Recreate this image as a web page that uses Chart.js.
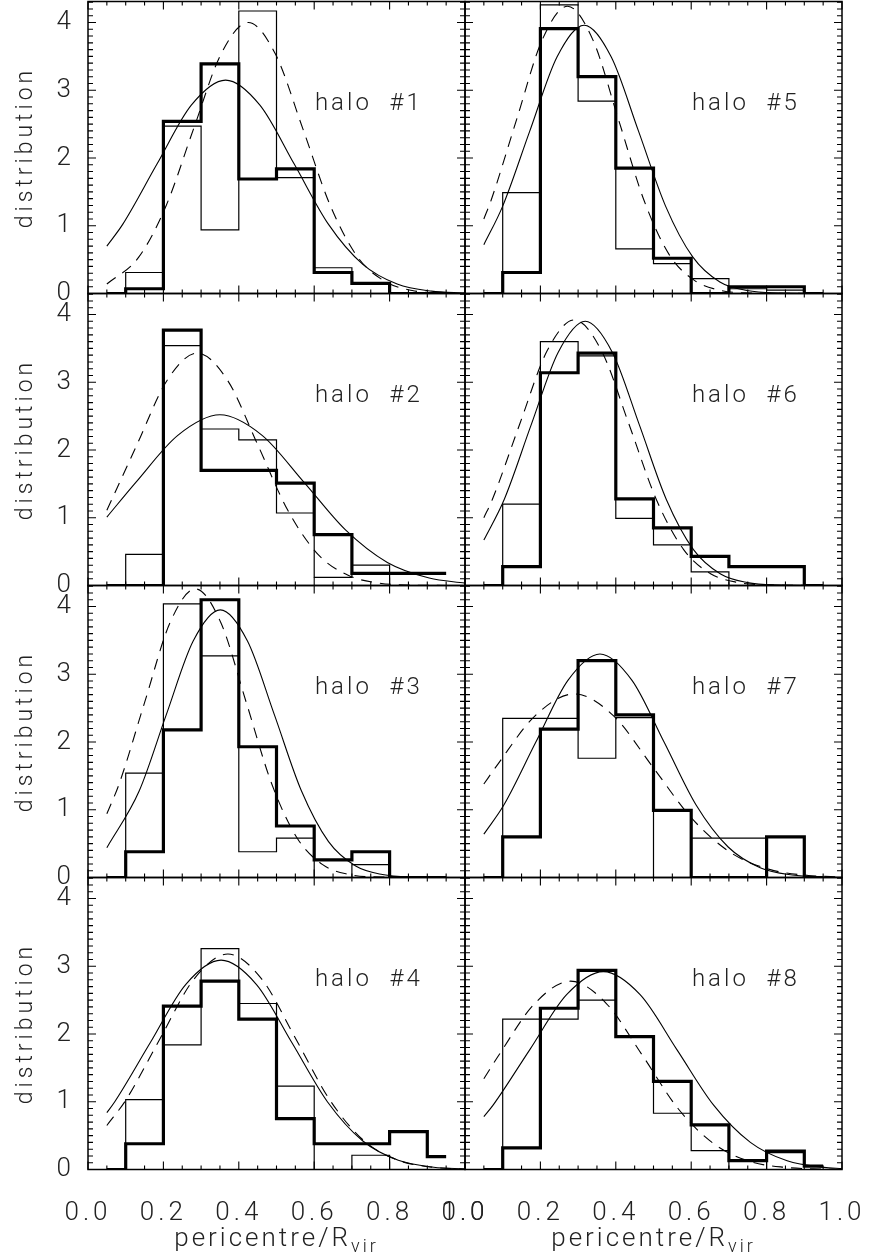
<!DOCTYPE html>
<html>
<head>
<meta charset="utf-8">
<title>pericentre distributions</title>
<script src="https://cdn.jsdelivr.net/npm/chart.js@4.4.1/dist/chart.umd.min.js"></script>
<style>
  html, body { margin: 0; padding: 0; background: #fff; }
  #wrap { position: relative; width: 872px; height: 1258px; }
  #wrap canvas { position: absolute; left: 0; top: 0; }
</style>
</head>
<body>
<div id="wrap"></div>
<script>
// histogram bins (centres), same for every halo
const binCentres = [0.05, 0.15, 0.25, 0.35, 0.45, 0.55, 0.65, 0.75, 0.85, 0.95];
const xTicks = [0.0, 0.2, 0.4, 0.6, 0.8, 1.0];
const yTicks = [0, 1, 2, 3, 4];

// halo #1
const thick1 = [0, 0.07, 2.54, 3.39, 1.69, 1.84, 0.31, 0.15, 0, 0];
const thin1  = [0, 0.31, 2.47, 0.94, 4.17, 1.71, 0.38, 0.15, 0, 0];
const fitX1  = [0.05, 0.092, 0.183, 0.274, 0.365, 0.456, 0.547, 0.638, 0.729, 0.82, 0.911, 1.0];
const fitY1  = [0.70, 1.02, 1.91, 2.78, 3.15, 2.78, 1.91, 1.02, 0.43, 0.14, 0.035, 0.007];
const dashX1 = [0.05, 0.135, 0.2075, 0.28, 0.3525, 0.425, 0.4975, 0.57, 0.6425, 0.715, 0.7875, 0.86, 0.9325, 1.0];
const dashY1 = [0.14, 0.54, 1.30, 2.43, 3.53, 4.0, 3.53, 2.43, 1.30, 0.54, 0.18, 0.044, 0.009, 0.0015];

// halo #2
const thick2 = [0, 0, 3.77, 1.70, 1.70, 1.51, 0.75, 0.18, 0.18, 0.18];
const thin2  = [0, 0.46, 3.54, 2.31, 2.15, 1.07, 0.12, 0.30, 0, 0];
const fitX2  = [0.05, 0.128, 0.239, 0.35, 0.461, 0.572, 0.683, 0.794, 0.905, 1.0];
const fitY2  = [1.01, 1.53, 2.22, 2.52, 2.22, 1.53, 0.82, 0.34, 0.11, 0.035];
const dashX2 = [0.05, 0.13, 0.21, 0.29, 0.37, 0.45, 0.53, 0.61, 0.69, 0.77, 0.85, 1.0];
const dashY2 = [1.11, 2.08, 3.03, 3.43, 3.03, 2.08, 1.11, 0.46, 0.15, 0.038, 0.0075, 0];

// halo #3
const thick3 = [0, 0.38, 2.18, 4.10, 1.93, 0.76, 0.26, 0.38, 0, 0];
const thin3  = [0, 1.54, 4.04, 3.27, 0.38, 0.58, 0, 0.19, 0, 0];
const fitX3  = [0.05, 0.136, 0.2075, 0.279, 0.351, 0.423, 0.4945, 0.566, 0.638, 0.71, 0.781, 0.853, 1.0];
const fitY3  = [0.44, 1.28, 2.40, 3.49, 3.95, 3.49, 2.40, 1.28, 0.53, 0.17, 0.044, 0.009, 0];
const dashX3 = [0.05, 0.0825, 0.15, 0.2175, 0.285, 0.3525, 0.42, 0.4875, 0.555, 0.6225, 0.69, 0.7575, 1.0];
const dashY3 = [0.94, 1.38, 2.58, 3.76, 4.26, 3.76, 2.58, 1.38, 0.58, 0.19, 0.047, 0.009, 0];

// halo #4
const thick4 = [0, 0.38, 2.41, 2.78, 2.22, 0.75, 0.38, 0.38, 0.56, 0.19];
const thin4  = [0, 1.03, 1.84, 3.26, 2.45, 1.23, 0, 0.21, 0, 0];
const fitX4  = [0.05, 0.071, 0.165, 0.259, 0.353, 0.447, 0.541, 0.635, 0.729, 0.823, 0.917, 1.0];
const fitY4  = [0.84, 1.00, 1.87, 2.73, 3.09, 2.73, 1.87, 1.00, 0.42, 0.136, 0.034, 0.008];
const dashX4 = [0.05, 0.101, 0.191, 0.281, 0.371, 0.461, 0.551, 0.641, 0.731, 0.821, 0.911, 1.0];
const dashY4 = [0.65, 1.03, 1.93, 2.81, 3.18, 2.81, 1.93, 1.03, 0.43, 0.14, 0.035, 0.007];

// halo #5
const thick5 = [0, 0.31, 3.91, 3.20, 1.85, 0.52, 0, 0.10, 0.10, 0];
const thin5  = [0, 1.49, 4.26, 2.84, 0.66, 0.44, 0.22, 0.07, 0.05, 0];
const fitX5  = [0.05, 0.1, 0.172, 0.244, 0.316, 0.388, 0.46, 0.532, 0.604, 0.676, 0.748, 0.82, 1.0];
const fitY5  = [0.72, 1.29, 2.40, 3.49, 3.96, 3.49, 2.40, 1.29, 0.54, 0.17, 0.044, 0.009, 0];
const dashX5 = [0.05, 0.0695, 0.137, 0.2045, 0.272, 0.3395, 0.407, 0.4745, 0.542, 0.6095, 0.677, 0.7445, 1.0];
const dashY5 = [1.10, 1.38, 2.57, 3.74, 4.24, 3.74, 2.57, 1.38, 0.57, 0.19, 0.047, 0.009, 0];

// halo #6
const thick6 = [0, 0.28, 3.14, 3.43, 1.28, 0.85, 0.43, 0.28, 0.28, 0];
const thin6  = [0, 1.20, 3.60, 3.39, 0.99, 0.60, 0.20, 0, 0, 0];
const fitX6  = [0.05, 0.104, 0.1755, 0.247, 0.319, 0.391, 0.4625, 0.534, 0.606, 0.678, 0.749, 0.821, 1.0];
const fitY6  = [0.67, 1.27, 2.37, 3.44, 3.90, 3.44, 2.37, 1.27, 0.53, 0.17, 0.043, 0.009, 0];
const dashX6 = [0.05, 0.0725, 0.145, 0.2175, 0.29, 0.3625, 0.435, 0.5075, 0.58, 0.6525, 0.725, 0.7975, 1.0];
const dashY6 = [1.00, 1.27, 2.38, 3.46, 3.92, 3.46, 2.38, 1.27, 0.53, 0.17, 0.044, 0.009, 0];

// halo #7
const thick7 = [0, 0.60, 2.19, 3.20, 2.40, 0.99, 0, 0, 0.60, 0];
const thin7  = [0, 2.35, 2.35, 1.76, 2.36, 0, 0.58, 0.58, 0, 0];
const fitX7  = [0.05, 0.103, 0.188, 0.273, 0.358, 0.443, 0.528, 0.613, 0.698, 0.783, 0.868, 0.953, 1.0];
const fitY7  = [0.64, 1.07, 2.00, 2.91, 3.30, 2.91, 2.00, 1.07, 0.45, 0.145, 0.037, 0.007, 0.003];
const dashX7 = [0.05, 0.083, 0.1865, 0.29, 0.3935, 0.497, 0.6005, 0.704, 0.8075, 0.911, 1.0];
const dashY7 = [1.38, 1.64, 2.39, 2.71, 2.39, 1.64, 0.88, 0.37, 0.12, 0.03, 0.008];

// halo #8
const thick8 = [0, 0.32, 2.38, 2.94, 1.96, 1.30, 0.66, 0.13, 0.27, 0.05];
const thin8  = [0, 2.22, 2.22, 2.50, 1.96, 0.83, 0.28, 0, 0.25, 0.05];
const fitX8  = [0.05, 0.0745, 0.172, 0.2695, 0.367, 0.4645, 0.562, 0.6595, 0.757, 0.8545, 0.952, 1.0];
const fitY8  = [0.78, 0.95, 1.77, 2.58, 2.92, 2.58, 1.77, 0.95, 0.40, 0.128, 0.032, 0.015];
const dashX8 = [0.05, 0.09, 0.185, 0.28, 0.375, 0.47, 0.565, 0.66, 0.755, 0.85, 0.945, 1.0];
const dashY8 = [1.34, 1.69, 2.45, 2.78, 2.45, 1.69, 0.90, 0.38, 0.12, 0.031, 0.006, 0.002];

// page layout: 2 columns x 4 rows of panels sharing their borders
const pageW = 872, pageH = 1258;
const panelW = 377, panelH = 292;
const colLeft = [88, 465];
const rowTop = [1.5, 293.5, 585.5, 877.5];
const yMax = 4.31;
const fontFam = "Roboto, 'DejaVu Sans', sans-serif";
const ink = '#222';

Chart.defaults.color = ink;

function pts(xs, ys) {
  return xs.map((x, i) => ({ x: x, y: ys[i] }));
}

// box round the plot plus inward IDL-style ticks on all four sides
const framePlugin = {
  id: 'frame',
  beforeDraw(chart) {
    chart.ctx.letterSpacing = '4px';
  },
  beforeDatasetsDraw(chart) {
    const { ctx, chartArea: a, scales: { x, y } } = chart;
    ctx.save();
    ctx.strokeStyle = '#000';
    ctx.lineWidth = 1.5;
    ctx.strokeRect(a.left, a.top, a.right - a.left, a.bottom - a.top);
    ctx.lineWidth = 1.1;
    ctx.beginPath();
    for (let i = 0; i <= 20; i++) {
      const px = x.getPixelForValue(i * 0.05);
      const len = i % 4 === 0 ? 8 : 4;
      ctx.moveTo(px, a.bottom); ctx.lineTo(px, a.bottom - len);
      ctx.moveTo(px, a.top); ctx.lineTo(px, a.top + len);
    }
    for (let i = 0; i <= 43; i++) {
      const py = y.getPixelForValue(i * 0.1);
      const len = i % 10 === 0 ? 8 : 5;
      ctx.moveTo(a.left, py); ctx.lineTo(a.left + len, py);
      ctx.moveTo(a.right, py); ctx.lineTo(a.right - len, py);
    }
    ctx.stroke();
    ctx.restore();
  },
  afterDatasetsDraw(chart, args, opts) {
    const { ctx, chartArea: a, scales: { x, y } } = chart;
    ctx.save();
    ctx.fillStyle = ink;
    ctx.letterSpacing = '3px';
    ctx.font = '300 24px ' + fontFam;
    ctx.textAlign = 'center';
    ctx.textBaseline = 'middle';
    ctx.fillText(opts.name, x.getPixelForValue(0.745), y.getPixelForValue(2.8));
    if (opts.xTitle) {
      // pericentre / R_vir with a lowered subscript
      const main = 'pericentre/R', sub = 'vir';
      ctx.textAlign = 'left';
      ctx.textBaseline = 'alphabetic';
      ctx.font = '300 26px ' + fontFam;
      const w1 = ctx.measureText(main).width;
      ctx.font = '300 18px ' + fontFam;
      const w2 = ctx.measureText(sub).width;
      const x0 = (a.left + a.right) / 2 - (w1 + w2) / 2;
      ctx.font = '300 26px ' + fontFam;
      ctx.fillText(main, x0, 1246);
      ctx.font = '300 18px ' + fontFam;
      ctx.fillText(sub, x0 + w1, 1252);
    }
    ctx.restore();
  }
};

function makePanel(col, row, name, thick, thin, fitX, fitY, dashX, dashY) {
  const cv = document.createElement('canvas');
  cv.width = pageW;
  cv.height = pageH;
  document.getElementById('wrap').appendChild(cv);

  const left = colLeft[col], top = rowTop[row];
  const right = left + panelW, bottom = top + panelH;
  const hasY = col === 0, hasX = row === 3;
  const lineBase = { pointRadius: 0, borderColor: '#000', fill: false };

  return new Chart(cv, {
    type: 'line',
    data: {
      datasets: [
        Object.assign({ data: pts(binCentres, thin), stepped: 'middle', borderWidth: 1.2,
          borderJoinStyle: 'miter', borderCapStyle: 'butt' }, lineBase),
        Object.assign({ data: pts(binCentres, thick), stepped: 'middle', borderWidth: 3.2,
          borderJoinStyle: 'miter', borderCapStyle: 'butt' }, lineBase),
        Object.assign({ data: pts(fitX, fitY), borderWidth: 1.1,
          cubicInterpolationMode: 'monotone' }, lineBase),
        Object.assign({ data: pts(dashX, dashY), borderWidth: 1.1, borderDash: [11, 8],
          cubicInterpolationMode: 'monotone' }, lineBase)
      ]
    },
    options: {
      responsive: false,
      animation: false,
      events: [],
      layout: {
        padding: {
          left: hasY ? 0 : left,
          top: top,
          right: pageW - right,
          bottom: hasX ? 0 : pageH - bottom
        }
      },
      plugins: {
        legend: { display: false },
        tooltip: { enabled: false },
        frame: { name: name, xTitle: hasX }
      },
      scales: {
        x: {
          type: 'linear',
          min: 0, max: 1,
          afterBuildTicks: s => { s.ticks = xTicks.map(v => ({ value: v })); },
          afterFit: s => {
            s.height = hasX ? pageH - bottom : 0;
            s.paddingLeft = 0; s.paddingRight = 0;
          },
          grid: { display: false, drawTicks: false },
          border: { display: false },
          ticks: {
            display: hasX,
            padding: 28,
            maxRotation: 0,
            autoSkip: false,
            font: { family: fontFam, size: 26, weight: 300 },
            callback: v => v.toFixed(1)
          }
        },
        y: {
          type: 'linear',
          min: 0, max: yMax,
          afterBuildTicks: s => { s.ticks = yTicks.map(v => ({ value: v })); },
          afterFit: s => {
            s.width = hasY ? left : 0;
            s.paddingTop = 0; s.paddingBottom = 0;
          },
          grid: { display: false, drawTicks: false },
          border: { display: false },
          title: {
            display: hasY,
            text: 'distribution',
            padding: { top: 12, bottom: 0 },
            font: { family: fontFam, size: 23, weight: 300 }
          },
          ticks: {
            display: hasY,
            padding: 13,
            font: { family: fontFam, size: 26, weight: 300 },
            callback: v => v.toFixed(0)
          }
        }
      }
    },
    plugins: [framePlugin]
  });
}

makePanel(0, 0, 'halo  #1', thick1, thin1, fitX1, fitY1, dashX1, dashY1);
makePanel(0, 1, 'halo  #2', thick2, thin2, fitX2, fitY2, dashX2, dashY2);
makePanel(0, 2, 'halo  #3', thick3, thin3, fitX3, fitY3, dashX3, dashY3);
makePanel(0, 3, 'halo  #4', thick4, thin4, fitX4, fitY4, dashX4, dashY4);
makePanel(1, 0, 'halo  #5', thick5, thin5, fitX5, fitY5, dashX5, dashY5);
makePanel(1, 1, 'halo  #6', thick6, thin6, fitX6, fitY6, dashX6, dashY6);
makePanel(1, 2, 'halo  #7', thick7, thin7, fitX7, fitY7, dashX7, dashY7);
makePanel(1, 3, 'halo  #8', thick8, thin8, fitX8, fitY8, dashX8, dashY8);
</script>
</body>
</html>
